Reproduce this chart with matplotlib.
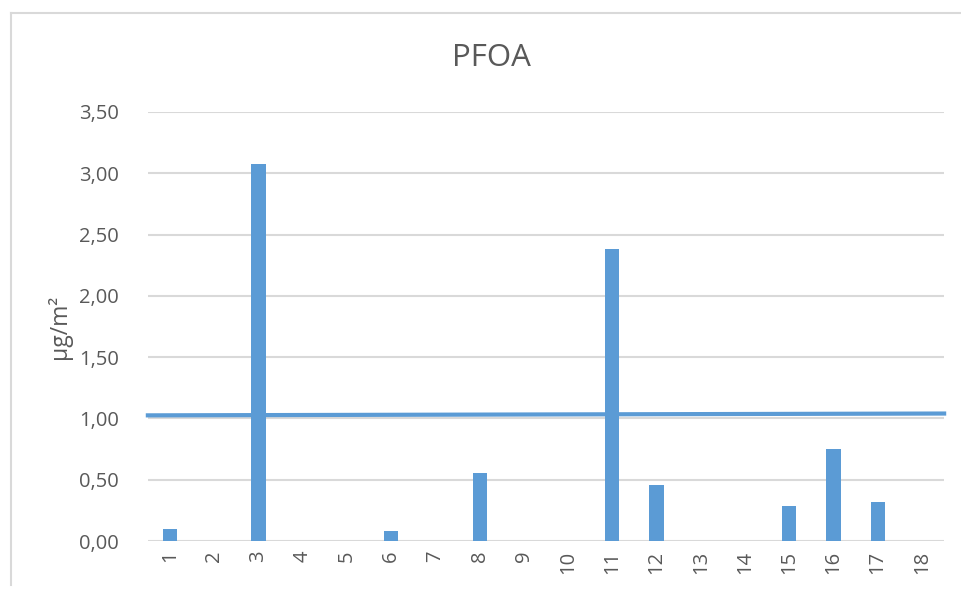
import matplotlib
matplotlib.use("Agg")
import matplotlib.pyplot as plt
from matplotlib.lines import Line2D

categories = [str(i) for i in range(1, 19)]
values = [0.095, 0, 3.075, 0, 0, 0.08, 0, 0.552, 0, 0, 2.38, 0.457, 0, 0, 0.286, 0.75, 0.318, 0]
limit_line = [1.025, 1.04]
yticks = [0, 0.5, 1.0, 1.5, 2.0, 2.5, 3.0, 3.5]
ytick_labels = ["0,00", "0,50", "1,00", "1,50", "2,00", "2,50", "3,00", "3,50"]

plt.rcParams['font.family'] = ['Open Sans', 'DejaVu Sans']
text_color = "#595959"
bar_color = "#5B9BD5"

fig = plt.figure(figsize=(9.62, 5.90), dpi=100)
border = "#D9D9D9"
fig.lines.append(Line2D([11/962, 11/962], [5/590, 1 - 13/590], transform=fig.transFigure,
                        color=border, linewidth=1.5))
fig.lines.append(Line2D([11/962, 1.0], [1 - 13/590, 1 - 13/590], transform=fig.transFigure,
                        color=border, linewidth=1.5))
ax = fig.add_axes([148/962, 1 - 541/590, 796/962, (541 - 112)/590])

x = list(range(1, 19))
ax.bar(x, values, width=0.32, color=bar_color, zorder=3)
ax.plot([0.45, 18.55], limit_line, color=bar_color, linewidth=3, zorder=4, solid_capstyle='butt',
        clip_on=False)

ax.set_xlim(0.5, 18.5)
ax.set_ylim(0, 3.5)
ax.set_yticks(yticks)
ax.set_yticklabels(ytick_labels)
ax.set_xticks(x)
ax.set_xticklabels(categories, rotation=90)
ax.tick_params(axis='both', length=0, colors=text_color, labelsize=14.5)
ax.tick_params(axis='y', pad=21)
ax.tick_params(axis='x', pad=7)
ax.yaxis.grid(True, color="#D9D9D9", linewidth=1.5, zorder=0)
for s in ax.spines.values():
    s.set_visible(False)
ax.set_ylabel("µg/m²", color=text_color, fontsize=16.5, labelpad=5)
fig.text(491/962, 1 - 58/590, "PFOA", ha='center', va='center', fontsize=22.5, color=text_color)

fig.savefig("out.png", dpi=100)
